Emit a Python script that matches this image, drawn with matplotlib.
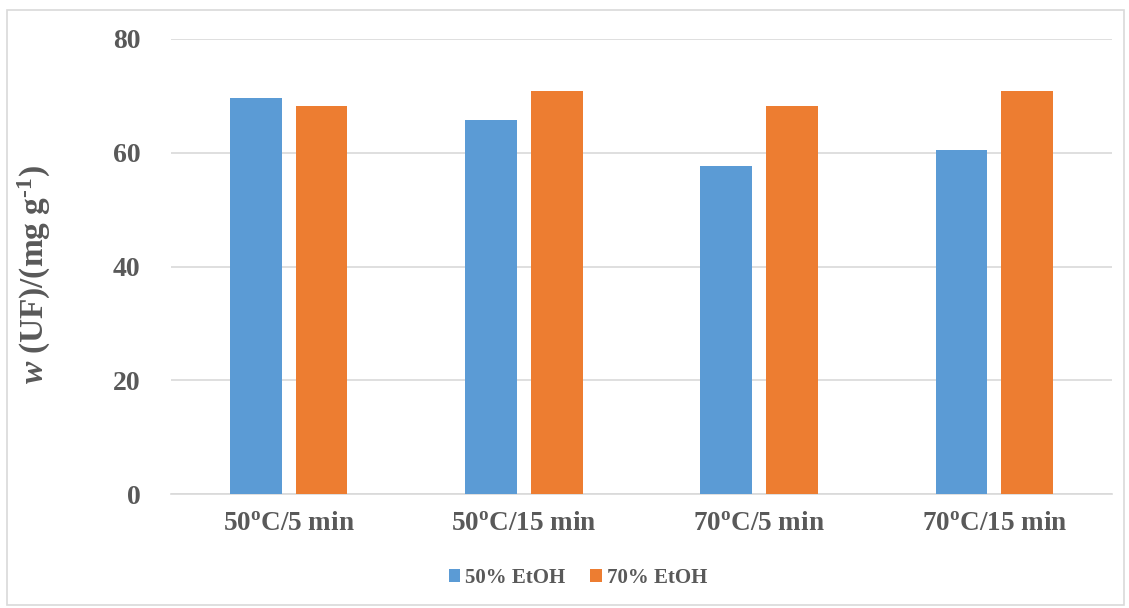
import matplotlib.pyplot as plt
import numpy as np
from matplotlib.patches import Rectangle

plt.rcParams['font.family'] = 'Liberation Serif'
plt.rcParams['font.weight'] = 'bold'
plt.rcParams['mathtext.fontset'] = 'custom'
plt.rcParams['mathtext.rm'] = 'Liberation Serif:bold'
plt.rcParams['mathtext.bf'] = 'Liberation Serif:bold'
plt.rcParams['mathtext.it'] = 'Liberation Serif:italic:bold'

# data
categories = [r'50$^{\mathbf{o}}$C/5 min', r'50$^{\mathbf{o}}$C/15 min',
              r'70$^{\mathbf{o}}$C/5 min', r'70$^{\mathbf{o}}$C/15 min']
series_names = ['50% EtOH', '70% EtOH']
etoh50 = [69.7, 65.8, 57.7, 60.4]
etoh70 = [68.2, 70.9, 68.2, 70.9]
yticks = [0, 20, 40, 60, 80]

blue = '#5b9bd5'
orange = '#ed7d31'
grey = '#595959'

fig = plt.figure(figsize=(11.29, 6.08), dpi=100)
ax = fig.add_axes([171 / 1129, 1 - 494 / 608, (1112 - 171) / 1129, (494 - 39) / 608])

x = np.arange(len(categories))
w = 0.22
ax.bar(x - 0.14, etoh50, w, color=blue, label=series_names[0], zorder=3)
ax.bar(x + 0.14, etoh70, w, color=orange, label=series_names[1], zorder=3)

ax.set_xlim(-0.5, len(categories) - 0.5)
ax.set_ylim(0, 80)
ax.set_yticks(yticks)
ax.grid(axis='y', color='#d9d9d9', linewidth=1.2, zorder=0)
for s in ['top', 'right', 'left']:
    ax.spines[s].set_visible(False)
ax.spines['bottom'].set_color('#d9d9d9')
ax.spines['bottom'].set_linewidth(1.2)

ax.set_xticks(x)
ax.set_xticklabels(categories, fontsize=19.5, color=grey)
ax.tick_params(axis='x', length=0, pad=12)
ax.tick_params(axis='y', length=0, pad=22, labelsize=20, labelcolor=grey)
for t in ax.get_yticklabels():
    t.set_fontweight('bold')

ax.set_ylabel(r'$\mathit{w}$ (UF)/(mg g$^{\mathbf{\text{-}1}}$)', fontsize=24,
              color=grey, fontweight='bold')
ax.yaxis.set_label_coords(-0.125, 0.483)

fig.legend(loc='center', bbox_to_anchor=(578 / 1129, 1 - 578 / 608), ncol=2, frameon=False,
           fontsize=15, handlelength=0.55, handleheight=0.55, handletextpad=0.25,
           columnspacing=1.2, labelcolor=grey)

fig.patches.append(Rectangle((7 / 1129, 3 / 608), 1117 / 1129, 595 / 608,
                             transform=fig.transFigure, fill=False,
                             edgecolor='#d9d9d9', linewidth=1.2))

fig.savefig('out.png', dpi=100)
